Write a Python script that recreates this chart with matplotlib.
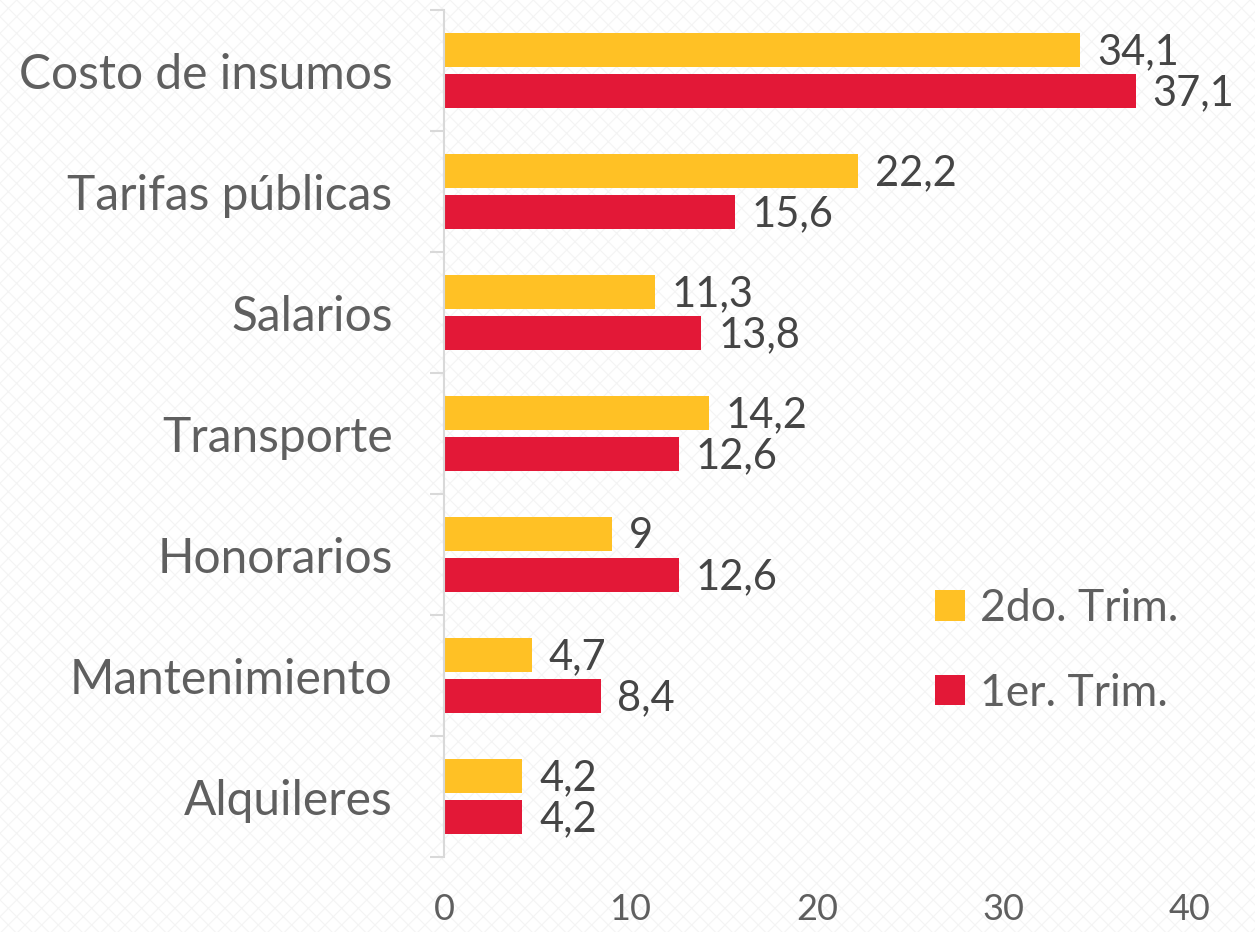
import numpy as np
import matplotlib
matplotlib.use("Agg")
import matplotlib.pyplot as plt
from matplotlib.patches import Rectangle

categories = ["Costo de insumos", "Tarifas públicas", "Salarios", "Transporte",
              "Honorarios", "Mantenimiento", "Alquileres"]
trim2 = [34.1, 22.2, 11.3, 14.2, 9, 4.7, 4.2]
trim1 = [37.1, 15.6, 13.8, 12.6, 12.6, 8.4, 4.2]
series_names = ["2do. Trim.", "1er. Trim."]
xticks = [0, 10, 20, 30, 40]

yellow = "#FFC125"
red = "#E31837"
txt = "#5f5f5f"
dark = "#454545"
plt.rcParams["font.family"] = ["Lato", "DejaVu Sans"]
plt.rcParams["hatch.linewidth"] = 0.8

fig = plt.figure(figsize=(12.55, 9.32), dpi=100)
fig.patch.set_facecolor("white")
# faint patterned background
bg = Rectangle((0, 0), 1, 1, transform=fig.transFigure, facecolor="white",
               edgecolor="#f4f4f4", hatch="xx", linewidth=0, zorder=-10)
fig.patches.append(bg)

ax = fig.add_axes([444/1255, 75/932, (1190-444)/1255, (857-10)/932])
ax.patch.set_alpha(0)

y = np.arange(len(categories))
h = 0.275
off = 0.17
ax.barh(y - off, trim2, height=h, color=yellow, label=series_names[0])
ax.barh(y + off, trim1, height=h, color=red, label=series_names[1])

def fmt(v):
    return f"{v:g}".replace(".", ",")

for i in range(len(categories)):
    ax.text(trim2[i] + 0.9, y[i] - off + 0.02, fmt(trim2[i]), va="center",
            ha="left", fontsize=30, color=dark)
    ax.text(trim1[i] + 0.9, y[i] + off + 0.02, fmt(trim1[i]), va="center",
            ha="left", fontsize=30, color=dark)

ax.set_xlim(0, 40)
ax.set_ylim(len(categories) - 0.5, -0.5)
ax.set_yticks(y)
ax.set_yticklabels(categories, fontsize=34.5, color=txt)
ax.set_yticks(np.arange(-0.5, len(categories)), minor=True)
ax.tick_params(axis="y", which="major", length=0, pad=37)
ax.tick_params(axis="y", which="minor", length=10, width=1.5, color="#d9d9d9")
ax.set_xticks(xticks)
ax.set_xticklabels([str(t) for t in xticks], fontsize=26, color=txt)
ax.tick_params(axis="x", length=0, pad=26)

for s in ["top", "right", "bottom"]:
    ax.spines[s].set_visible(False)
ax.spines["left"].set_color("#d9d9d9")
ax.spines["left"].set_linewidth(1.5)

handles, labels = ax.get_legend_handles_labels()
fig.legend(handles, labels, loc="upper left",
           bbox_to_anchor=(935/1255, 1 - 588/932), frameon=False,
           fontsize=32, handlelength=0.68, handleheight=0.68,
           handletextpad=0.34, labelspacing=0.98, labelcolor=txt,
           borderpad=0, borderaxespad=0)

fig.savefig("out.png", dpi=100, facecolor=fig.get_facecolor())
